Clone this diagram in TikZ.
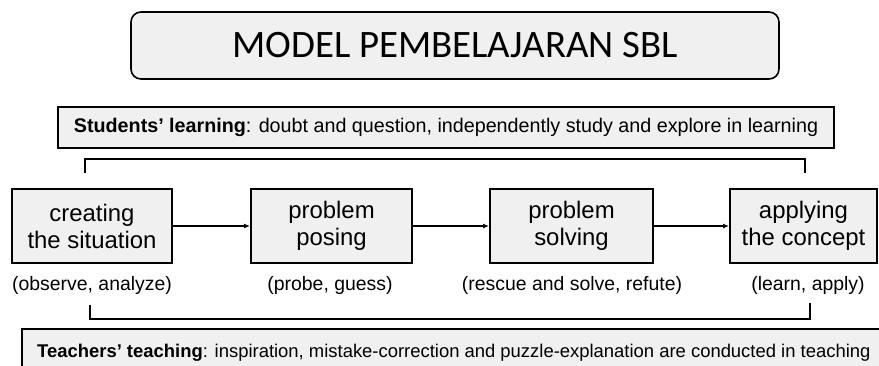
\documentclass[tikz,border=0pt]{standalone}
\usepackage{fontspec}
\setmainfont{Liberation Sans}
\newfontfamily\titlefont{Carlito}
\usetikzlibrary{arrows.meta}
\definecolor{boxfill}{HTML}{F0F0F0}
\begin{document}
\begin{tikzpicture}[x=1bp,y=-1bp,
  titlebox/.style={draw, line width=1.6bp, rounded corners=10bp, fill=boxfill, minimum width=648bp, minimum height=67bp, inner sep=0pt, font=\titlefont\fontsize{39}{44}\selectfont},
  infobox/.style={draw, line width=2bp, fill=boxfill, inner sep=0pt},
  stepbox/.style={draw, line width=2bp, fill=boxfill, minimum height=74bp, inner sep=0pt, align=center, font=\fontsize{24}{27}\selectfont},
  sublabel/.style={font=\fontsize{19.5}{22}\selectfont, inner sep=0pt},
  bracket/.style={line width=2bp},
  flow/.style={line width=1.5bp, -{Latex[length=6bp,width=5bp]}}
]
\useasboundingbox (0,0) rectangle (879,365);
\clip (0,0) rectangle (879,365);

\node[titlebox] (title) at (455,45.5) {MODEL PEMBELAJARAN SBL};

\node[infobox, minimum width=776bp, minimum height=41bp, font=\fontsize{19.8}{22}\selectfont] (students) at (446,127.5)
  {\textbf{Students’ learning}: doubt and question, independently study and explore in learning};

\node[stepbox, minimum width=160bp] (s1) at (92,226) {creating\\the situation};
\node[stepbox, minimum width=161bp] (s2) at (331.5,226) {problem\\posing};
\node[stepbox, minimum width=163bp] (s3) at (571.5,226) {problem\\solving};
\node[stepbox, minimum width=147bp] (s4) at (803.5,226) {applying\\the concept};

\node[sublabel] (l1) at (92,285) {(observe, analyze)};
\node[sublabel] (l2) at (330,285) {(probe, guess)};
\node[sublabel] (l3) at (572,285) {(rescue and solve, refute)};
\node[sublabel] (l4) at (808,285) {(learn, apply)};

\draw[flow] (s1.east) -- (s2.west);
\draw[flow] (s2.east) -- (s3.west);
\draw[flow] (s3.east) -- (s4.west);

\coordinate (tl) at (85,173);
\coordinate (tr) at (805,173);
\draw[bracket] (tl) -- (85,159) -- (805,159) -- (tr);

\coordinate (bl) at (90,305);
\coordinate (br) at (810,303);
\draw[bracket] (bl) -- (90,319) -- (810,319) -- (br);

\draw[infobox] (22,329) rectangle (895,380);
\node[anchor=west, inner sep=0pt, font=\fontsize{18.5}{21}\selectfont] (teachers) at (37,353)
  {\textbf{Teachers’ teaching}: inspiration, mistake-correction and puzzle-explanation are conducted in teaching};
\end{tikzpicture}
\end{document}
